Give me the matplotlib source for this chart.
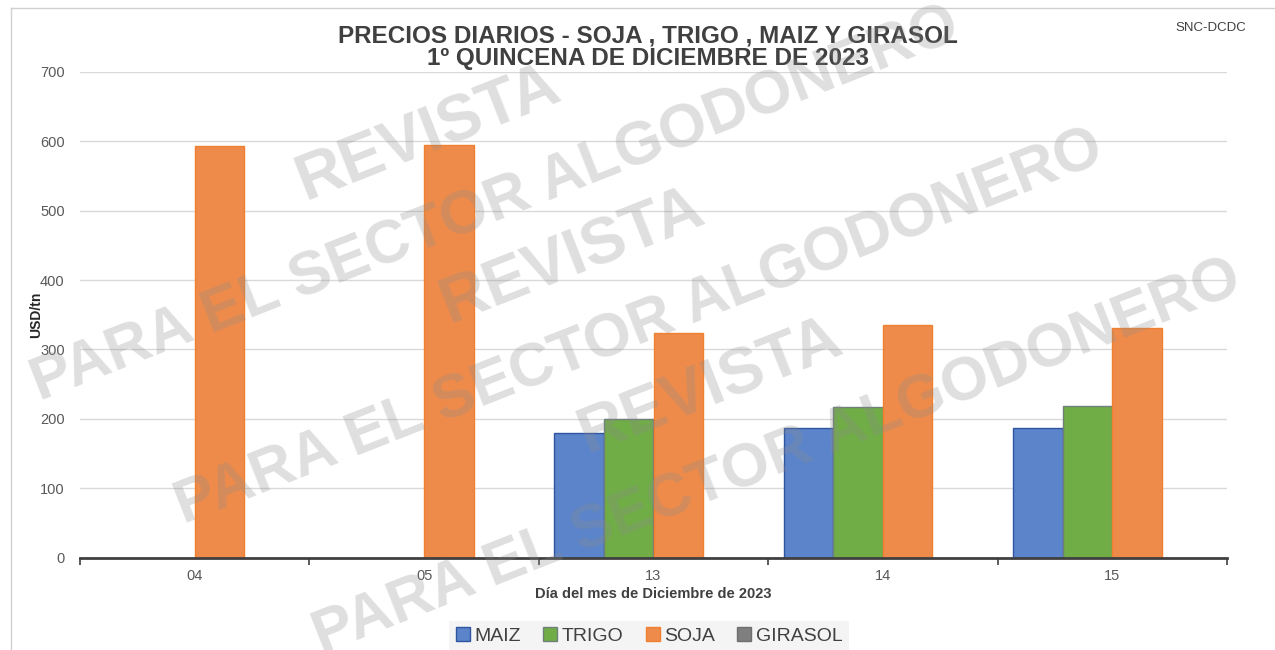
import numpy as np
import matplotlib
matplotlib.use('Agg')
import matplotlib.pyplot as plt
from matplotlib.lines import Line2D

plt.rcParams['font.family'] = ['Liberation Sans', 'DejaVu Sans']

# Data
dias = ['04', '05', '13', '14', '15']
series = ['MAIZ', 'TRIGO', 'SOJA', 'GIRASOL']
maiz = [np.nan, np.nan, 180, 186, 186]
trigo = [np.nan, np.nan, 200, 217, 219]
soja = [593, 595, 323, 335, 331]
girasol = [np.nan, np.nan, np.nan, np.nan, np.nan]

valores = [maiz, trigo, soja, girasol]
colores = ['#5B84CA', '#70AD47', '#EE8B4B', '#7F7F7F']
bordes = ['#2F55A0', '#6F7F7A', '#F08030', '#6F6F6F']

W, H = 1275, 650
fig = plt.figure(figsize=(W / 100, H / 100), dpi=100)
ax = fig.add_axes([80 / W, 1 - 557.5 / H, (1227 - 80) / W, (557.5 - 72) / H])

x = np.arange(len(dias))
ancho = 0.216
for i, (nombre, vals) in enumerate(zip(series, valores)):
    ax.bar(x + (i - 1.5) * ancho, vals, ancho, color=colores[i],
           edgecolor=bordes[i], linewidth=1, label=nombre, zorder=2)

ax.set_xlim(-0.5, len(dias) - 0.5)
ax.set_ylim(0, 700)
ax.set_yticks(range(0, 701, 100))
ax.set_xticks(x)
ax.set_xticklabels(dias)
ax.set_xticks(np.arange(-0.5, len(dias), 1), minor=True)
ax.tick_params(axis='x', which='major', length=0, pad=8, labelsize=10.5, labelcolor='#595959')
ax.tick_params(axis='x', which='minor', length=5, width=1.2, color='#404040', direction='out')
ax.tick_params(axis='y', length=0, pad=11, labelsize=10.5, labelcolor='#595959')
ax.grid(axis='y', color='#d9d9d9', linewidth=1, zorder=0)
ax.set_axisbelow(True)
for s in ['left', 'right', 'top']:
    ax.spines[s].set_visible(False)
ax.spines['bottom'].set_color('#404040')
ax.spines['bottom'].set_linewidth(2)

ax.set_ylabel('USD/tn', fontsize=10, fontweight='bold', color='#262626')
ax.yaxis.set_label_coords(-37 / 1147, 0.5)
ax.set_xlabel('Día del mes de Diciembre de 2023', fontsize=10.5, fontweight='bold',
              color='#404040', labelpad=3)

fig.text(648 / W, 1 - 36 / H, 'PRECIOS DIARIOS - SOJA , TRIGO , MAIZ Y GIRASOL',
         ha='center', va='center', fontsize=17.5, fontweight='bold', color='#404040')
fig.text(648 / W, 1 - 59 / H, '1º QUINCENA DE DICIEMBRE DE 2023',
         ha='center', va='center', fontsize=17.5, fontweight='bold', color='#404040')
fig.text(1211 / W, 1 - 28 / H, 'SNC-DCDC', ha='center', va='center', fontsize=9.5, color='#404040')

# legend
handles = [Line2D([], [], marker='s', linestyle='none', markersize=10,
                  markerfacecolor=colores[i], markeredgecolor=bordes[i], label=n)
           for i, n in enumerate(series)]
leg = fig.legend(handles=handles, loc='center', bbox_to_anchor=(649 / W, 1 - 636 / H),
                 ncol=4, frameon=True, fontsize=14, handlelength=0.8, handletextpad=0.2,
                 columnspacing=1.1, borderpad=0.3, fancybox=False)
leg.get_frame().set_facecolor('#f2f2f2')
leg.get_frame().set_edgecolor('none')
for t in leg.get_texts():
    t.set_color('#404040')

# watermark
bloques = [(496, 205), (640, 328), (778, 458)]
for cx, cy in bloques:
    fig.text(cx / W, 1 - cy / H, 'PARA EL SECTOR ALGODONERO', rotation=21.5,
             rotation_mode='anchor', ha='center', va='center', fontsize=44,
             fontweight='bold', color='#8c8c8c', alpha=0.28, zorder=5)
    fig.text((cx - 67) / W, 1 - (cy - 71) / H, 'REVISTA', rotation=21.5,
             rotation_mode='anchor', ha='center', va='center', fontsize=47,
             fontweight='bold', color='#8c8c8c', alpha=0.28, zorder=5)

# outer frame
fig.add_artist(Line2D([11 / W, 1], [1 - 8 / H, 1 - 8 / H], transform=fig.transFigure,
                      color='#d0d0d0', linewidth=1))
fig.add_artist(Line2D([11 / W, 11 / W], [0, 1 - 8 / H], transform=fig.transFigure,
                      color='#d0d0d0', linewidth=1))

fig.savefig('out.png', dpi=100)
